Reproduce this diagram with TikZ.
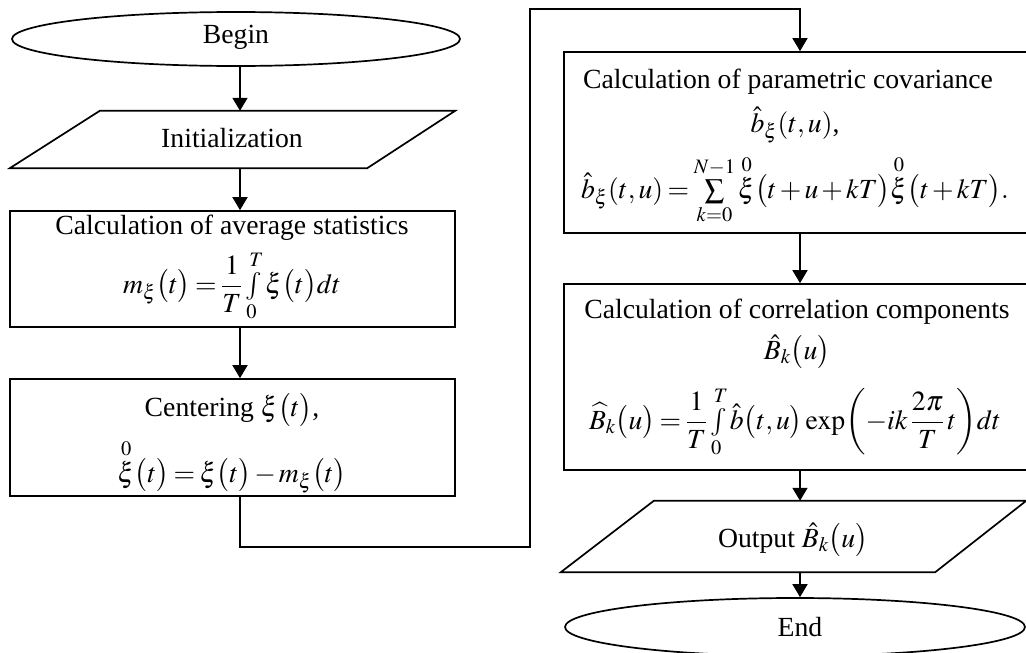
\documentclass[tikz,border=0pt]{standalone}
\usepackage{amsmath}
\usepackage{mathptmx}
\usepackage[no-math]{fontspec}
\setmainfont{Liberation Serif}
\usetikzlibrary{shapes.geometric,arrows.meta,calc}
\newcommand{\xio}{\overset{0}{\xi}}
\medmuskip=2mu plus 1mu minus 1mu
\thickmuskip=3mu plus 2mu
\begin{document}
\begin{tikzpicture}[x=1pt,y=-1pt,
  shp/.style={draw=black,line width=1.7pt,inner sep=0pt},
  inv/.style={rectangle,inner sep=0pt},
  conn/.style={draw=black,line width=1.7pt},
  arr/.style={conn,-{Triangle[length=13pt,width=15pt]}},
  txt/.style={inner sep=0pt,font=\fontsize{27.7}{33}\selectfont,anchor=center}
]
\useasboundingbox (0,0) rectangle (1026,653);

% shapes
\node[shp,ellipse,minimum width=448,minimum height=54] (begin) at (236,39) {};
\node[inv,minimum width=445,minimum height=57] (init) at (232.5,139.5) {};
\draw[conn,line join=miter] ($(init.north west)+(90,0)$) -- (init.north east) -- ($(init.south east)+(-88,0)$) -- (init.south west) -- cycle;
\node[shp,rectangle,minimum width=445,minimum height=116] (box1) at (232.5,269) {};
\node[shp,rectangle,minimum width=445,minimum height=117] (box2) at (232.5,437.5) {};
\node[shp,rectangle,minimum width=466,minimum height=181] (box3) at (797,142.5) {};
\node[shp,rectangle,minimum width=466,minimum height=186] (box4) at (797,377) {};
\node[inv,minimum width=465,minimum height=71] (outp) at (793.5,536.5) {};
\draw[conn,line join=miter] ($(outp.north west)+(93,0)$) -- (outp.north east) -- ($(outp.south east)+(-91,0)$) -- (outp.south west) -- cycle;
\node[shp,ellipse,minimum width=460,minimum height=58] (end) at (795,627) {};

% texts
\node[txt] (tbegin) at (236,37) {Begin};
\node[txt] (tinit) at (232,138) {Initialization};
\node[txt] (t1a) at (232,228) {Calculation of average statistics};
\node[txt] (t1b) at (232,286) {$m_{\xi}\bigl(t\bigr)=\dfrac{1}{T}\int\limits_{0}^{T}\xi\bigl(t\bigr)dt$};
\node[txt] (t2a) at (232,410) {Centering $\xi\bigl(t\bigr)$,};
\node[txt] (t2b) at (232,466) {$\xio\bigl(t\bigr)=\xi\bigl(t\bigr)-m_{\xi}\bigl(t\bigr)$};
\node[txt] (t3a) at (788,82) {Calculation of parametric covariance};
\node[txt] (t3b) at (795,125) {$\hat{b}_{\xi}(t,u)$,};
\node[txt] (t3c) at (795,190) {$\hat{b}_{\xi}(t,u)=\sum\limits_{k=0}^{N-1}\xio\bigl(t+u+kT\bigr)\xio\bigl(t+kT\bigr).$};
\node[txt] (t4a) at (797,312) {Calculation of correlation components};
\node[txt] (t4b) at (797,352) {$\hat{B}_{k}\bigl(u\bigr)$};
\node[txt] (t4c) at (795,422) {$\widehat{B}_{k}\bigl(u\bigr)=\dfrac{1}{T}\int\limits_{0}^{T}\hat{b}\bigl(t,u\bigr)\exp\!\left(-ik\,\dfrac{2\pi}{T}\,t\right)\!dt$};
\node[txt] (tout) at (793,540) {Output $\hat{B}_{k}\bigl(u\bigr)$};
\node[txt] (tend) at (800,627) {End};

% connector corners
\coordinate (xl) at (240,0);
\coordinate (xr) at (800,0);
\coordinate (j1) at (240,547);
\coordinate (j2) at (530,547);
\coordinate (j3) at (530,9);
\coordinate (j4) at (800,9);

% connectors
\draw[arr] (xl |- begin.south) -- (xl |- init.north);
\draw[arr] (xl |- init.south) -- (xl |- box1.north);
\draw[arr] (xl |- box1.south) -- (xl |- box2.north);
\draw[arr,line join=miter] (xl |- box2.south) -- (j1) -- (j2) -- (j3) -- (j4) -- (xr |- box3.north);
\draw[arr] (xr |- box3.south) -- (xr |- box4.north);
\draw[arr] (xr |- box4.south) -- (xr |- outp.north);
\draw[arr] (xr |- outp.south) -- (xr |- end.north);
\end{tikzpicture}
\end{document}
